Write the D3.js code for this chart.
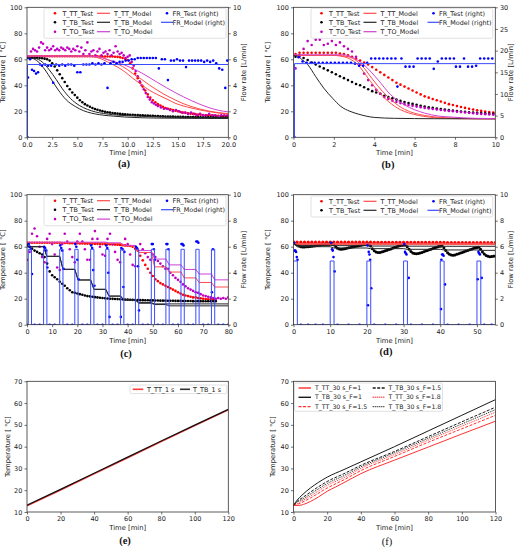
<!DOCTYPE html>
<html>
<head>
<meta charset="utf-8">
<script src="https://cdn.jsdelivr.net/npm/d3@7"></script>
<style>
  body { margin: 0; background: #fff; }
</style>
</head>
<body>
<script>
// ---------- panel (a): 20 min draw-off, sampled every 0.25 min ----------
const aStep = 0.25;
const aTTTest = [61.5,62,62.2,62.3,62.3,62.4,62.4,62.4,62.4,62.4, 62.4,62.4,62.4,62.4,62.4,62.4,62.4,62.4,62.4,62.4,
  62.4,62.4,62.4,62.3,62.3,62.3,62.3,62.3,62.3,62.2, 62.2,62.2,62.2,62.1,62.1,62,61.9,
  61.5,61,60.5,59.5,57,53,49,45.5,42,39, 36,33,30.5,28.5,27,25.5,24.5,23.5,22.5,22,
  21.5,21,20.5,20,19.5,19,18.8,18.5,18.2,18, 17.8,17.5,17.3,17.1,17,16.9,16.8,16.7,16.6,16.5, 16.4,16.3,16.2,16.2];
const aTBTest = [61,61,61.2,61.2,61.2,61,60.8,60.5,60,59, 57,54.5,51.5,48.5,45.5,42.5,39.5,37,34.5,32.5,
  30.5,28.5,27,25.5,24.5,23.5,22.5,21.8,21.2,20.6, 20.1,19.7,19.3,19,18.7,18.4,18.2,18,17.8,17.6,17.5,
  17.4,17.3,17.2,17.1,17,16.9,16.8,16.7,16.6,16.5, 16.4,16.3,16.2,16.1,16,16,15.9,15.9,15.8,15.8,
  15.7,15.7,15.6,15.6,15.6,15.5,15.5,15.5,15.4,15.4, 15.4,15.4,15.3,15.3,15.3,15.3,15.2,15.2,15.2,15.2];
const aTOTest = [[0,46],[0.2,62],[0.4,66],[0.6,68],[0.8,67],[1.0,66],[1.2,69],[1.4,73],[1.6,72],[1.8,67],
  [2.0,69],[2.2,67],[2.4,68],[2.6,70],[2.8,67],[3.0,68],[3.2,67],[3.4,69],[3.6,68],[3.8,67],
  [4.0,69],[4.2,68],[4.4,66],[4.6,68],[4.8,67],[5.0,70],[5.2,66],[5.4,69],[5.6,64],[5.8,67],
  [6.0,73],[6.2,64],[6.4,66],[6.6,67],[6.8,63],[7.0,66],[7.2,68],[7.4,63],[7.6,65],[7.8,66],
  [8.0,64],[8.2,67],[8.4,63],[8.6,65],[8.8,70],[9.0,66],[9.2,64],[9.4,65],[9.6,63],[9.8,61],
  [10.0,62],[10.2,63],[10.4,58],[10.6,55],[10.8,51],[11.0,47],[11.2,43],[11.4,40],[11.6,37],[11.8,34],
  [12.0,31],[12.2,29],[12.4,27],[12.6,26],[12.8,25],[13.0,24],[13.3,23],[13.6,22],[13.9,22],[14.2,21],
  [14.5,20],[14.8,21],[15.1,20],[15.4,19],[15.7,19],[16.0,18],[16.3,19],[16.6,18],[16.9,17],[17.2,18],
  [17.5,17],[17.8,17],[18.1,18],[18.4,17],[18.7,17],[19.0,16],[19.3,17],[19.6,17],[19.9,17]];
const aFRTest = [[0.05,0],[0.1,4.6],[0.3,6.0],[0.5,5.2],[0.7,5.1],[0.9,4.9],[1.1,5.0],[1.3,5.6],[1.5,5.5],[1.8,5.6],
  [2.1,5.5],[2.4,5.5],[2.6,4.2],[2.9,5.6],[3.2,5.5],[3.5,5.6],[3.8,5.5],[4.1,5.6],[4.4,5.6],[4.7,5.5],
  [5.0,5.0],[5.3,5.0],[5.6,5.6],[5.9,5.6],[6.2,5.6],[6.5,5.7],[6.8,5.6],[7.1,5.7],[7.4,5.6],[7.7,5.7],
  [8.0,3.8],[8.3,5.7],[8.6,5.8],[8.9,5.7],[9.2,5.8],[9.5,5.8],[9.8,5.9],[10.1,5.9],[10.4,6.0],[10.7,6.0],
  [11.0,6.1],[11.3,6.1],[11.6,6.1],[11.9,6.1],[12.2,6.1],[12.5,6.1],[12.8,6.1],[13.1,5.3],[13.4,6.0],[13.7,6.0],
  [14.0,4.4],[14.3,5.9],[14.6,5.9],[14.9,6.0],[15.2,5.9],[15.5,5.9],[15.8,5.4],[16.1,5.9],[16.4,5.9],[16.7,5.9],
  [17.0,5.9],[17.3,5.9],[17.6,5.8],[17.9,5.9],[18.2,5.8],[18.5,5.9],[18.8,5.7],[19.1,5.3],[19.4,5.2],[19.7,3.8],[19.9,5.9]];
const aTTModel1 = [[0,62.5],[5.5,62.5],[6.5,62],[7.25,60.7],[8,58],[9,54],[9.7,50.5],[10.5,45.5],[11.4,40.3],[12.2,36],
  [13,32.7],[14,29],[14.7,26.3],[15.5,24.2],[16.4,22.4],[17.2,21],[18,19.9],[19,18.7],[20,17.8]];
const aTTModel2 = [[0,62.5],[6.3,62.5],[7.3,61.8],[8.1,59.5],[9,56.5],[10,52],[10.5,49],[11.4,44.5],[12.2,40],[13,36],
  [14,31.5],[14.7,28.8],[15.5,26],[16.4,23.5],[17.2,21.7],[18,20.3],[19,19],[20,18.2]];
const aTOModel = [[0,62.5],[6,62.5],[7,62],[8.1,59.5],[9.7,55.6],[11.4,49.5],[13,42],[14.7,34.5],[16.4,28],[18,23],[19,20.8],[20,19.5]];
const aTBModel1 = [[0,61],[0.5,60.7],[1.1,58.2],[1.8,51.8],[2.45,44.1],[3.1,36.5],[3.9,28.8],[4.8,23.7],[5.6,20.5],[6.4,18.6],
  [7.2,17.4],[8.1,16.6],[9.7,15.6],[11.5,15],[13,14.8],[16,14.6],[20,14.5]];
const aTBModel2 = [[0,61],[0.8,60.7],[1.5,58],[2.2,52],[2.9,44.5],[3.5,37.5],[4.3,30],[5.2,24.5],[6,21.5],[6.8,19.5],
  [7.6,18.3],[8.5,17.4],[10,16.6],[12,16],[14,15.6],[17,15.3],[20,15.2]];
const aFRModel = [[0.05,0],[0.05,5.6],[20,5.6]];

// ---------- panel (b): 10 min draw-off, sampled every 0.2 min from 0.1 ----------
const bStart = 0.1, bStep = 0.2;
const bTTTest = [64,65,65,65,65,65,65,65,65,65, 65,64.5,64,63,62,60.5,59,57.5,56,54,
  52,50,48,46,44,42,40.5,39,37.5,36, 34.5,33,31.5,30.5,29.5,28.5,27.5,26.5,25.5,24.8,
  24,23.3,22.6,22,21.4,20.8,20.3,19.8,19.4,19];
const bTBTest = [62,63,61,59.5,57.5,56,54.5,53,51.5,50, 48.5,47,45.5,44,42.5,41,40,38.5,37,35.5,
  34.5,33.5,32,31,30,29,28,27.2,26.4,25.7, 25,24.3,23.7,23.1,22.6,22.1,21.7,21.3,20.9,20.5,
  20.2,19.9,19.6,19.3,19,18.8,18.6,18.4,18.2,18];
const bTOTest = [53,62,68,74,71,75,75,71,72,74, 71,73,70,68,66,62,56,49,44,40,
  36.5,33.5,31,29.5,28.2,27.2,26.3,25.5,24.8,24.2, 23.6,23.1,22.6,22.2,21.8,21.4,21,20.6,20.3,20,
  19.7,19.4,19.1,18.8,18.5,18.2,18,17.8,17.6,17.4];
const bFRTest = [[0.05,0],[0.25,18.5],[0.45,17.5],[0.65,17.2],[0.85,17.2],[1.05,17.2],[1.25,17.2],[1.45,17.2],[1.65,17.2],[1.85,17.2],
  [2.05,17.2],[2.25,17.2],[2.45,17.2],[2.65,17.2],[2.85,17.2],[3.05,17],[3.25,16.5],[3.45,16.5],[3.65,17.2],[3.85,18.2],
  [4.05,18.2],[4.25,18.2],[4.45,18.2],[4.65,18.2],[4.85,18.2],[5.05,18.2],[5.15,11.7],[5.35,18.2],[5.55,16.3],[5.75,16.3],
  [5.95,16.3],[6.15,18.2],[6.35,18.2],[6.55,18.2],[6.75,18.2],[6.95,15.8],[7.15,17.5],[7.35,18.2],[7.55,18.2],[7.75,18.2],
  [7.95,18.2],[8.05,16.3],[8.25,16.3],[8.45,18.2],[8.65,16.3],[8.85,16.3],[9.05,16.5],[9.25,18.2],[9.45,18.2],[9.65,18.2],[9.85,18.2]];
const bTTModel1 = [[0,63],[2,63],[2.3,62.5],[2.7,61],[3.2,55.6],[3.7,45.4],[4.2,35.2],[4.7,27.6],[5.3,21.2],[5.7,18.8],
  [6.2,16.8],[6.7,15.6],[7.3,14.8],[8,14.4],[9,14.2],[10,14.2]];
const bTTModel2 = [[0,63],[2.2,63],[2.5,62.5],[2.9,61],[3.4,55],[3.9,45],[4.4,35.5],[4.9,28],[5.5,21.5],[6,18.5],
  [6.5,16.8],[7,15.7],[7.6,15],[8.5,14.5],[10,14.2]];
const bTOModel = [[0,63.5],[2.4,63.5],[2.85,62],[3.5,55.6],[4.2,44],[4.8,33],[5.5,25],[6.5,18.6],[7.2,16.3],[7.8,15.6],[9,14.6],[10,14.4]];
const bTBModel = [[0,63],[0.2,62.5],[0.4,60],[0.7,56],[1.1,46.7],[1.5,37.8],[1.94,30],[2.35,23.7],[2.8,20],[3.2,17.9],
  [3.6,16.3],[4,15.3],[5,14.6],[7,14.3],[10,14.2]];
const bFRModel = [[0.05,0],[0.05,17],[10,17]];

// ---------- panel (c): intermittent draw-offs, sampled every 1 min ----------
const cStep = 1;
const cTTTest = [63,63,63,63,63,63,63,63,63,63, 63,63,63,63,62.8,62.8,62.8,62.7,62.7,62.6,
  62.6,62.5,62.5,62.4,62.4,62.3,62.3,62.2,62.2,62.1, 62,62,61.9,61.8,61.7,61.6,61.5,61.4,61.2,61,
  60.8,60.5,60,58.5,57,53,49.5,46,43,40, 37.5,35,33.5,32,31,30,29,28,27,26,
  25,24,23,22.5,22,21.5,21,21,20.5,20.3, 20,19.8,19.6,19.5,19.3,19];
const cTBTest = [61,60,58.5,57,56,55,54,52,47,41, 38,36.5,35,33,31.5,30,28,26.5,25,24.5,
  24,23.5,23,22.5,22,21.8,21.5,21.2,21,20.7, 20.5,20.3,20.1,20,19.9,19.8,19.7,19.6,19.5,19.4,
  19.3,19.2,19.1,19,19,18.9,18.9,18.8,18.8,18.7, 18.7,18.6,18.6,18.5,18.5,18.5,18.4,18.4,18.4,18.3,
  18.3,18.3,18.2,18.2,18.2,18.2,18.1,18.1,18.1,18.1, 18,18,18,18,18,18];
const cTOTest = [50,56,70,74,68,60,52,48,66,70, 62,54,44,42,62,70,64,58,52,48,
  64,70,64,58,50,50,66,72,66,60, 54,53,66,70,62,56,50,48,58,66,
  62,54,46,45,58,62,58,55,52,50, 54,52,49,47,45,43,43,40,38,36,
  34.5,33,31,29.5,28,27,26,25,24.5,23.5, 22.5,22,21.5,21,20.5,20,20.5,20,20.5,20, 21];
const cFRTest = [[0,0],[0.7,6.2],[1.1,6.0],[1.5,5.8],[2.0,3.9],[3,0],[5,0],
  [6.8,6.0],[7.2,5.9],[7.6,5.7],[8.1,4.4],[9,0],[11,0],
  [13.2,6.1],[13.6,5.9],[14.0,5.7],[14.5,4.3],[16,0],[18,0],
  [19.2,6.2],[19.6,6.0],[20.0,5.0],[20.5,3.5],[22,0],[24,0],
  [25.5,6.1],[25.9,5.9],[26.3,4.2],[26.8,3.0],[28,0],[30,0],
  [31.5,6.1],[31.9,5.9],[32.3,4.0],[32.8,0.6],[34,0],[36,0],
  [37.3,0.6],[37.5,5.9],[37.9,5.8],[38.3,2.9],[38.7,5.6],[40,0],[42,0],
  [43.3,6.0],[43.7,5.9],[44.1,4.5],[44.5,1.1],[46,0],[48,0],
  [49.6,6.2],[50.0,6.2],[50.4,5.8],[50.8,5.0],[52,0],[54,0],
  [55.4,6.2],[55.8,6.2],[56.2,5.8],[58,0],[60,0],
  [61.4,6.2],[61.8,6.2],[62.2,6.1],[64,0],[66,0],
  [67.3,6.4],[67.7,6.4],[68.1,6.3],[70,0],[72,0],
  [73.5,2.5],[73.9,5.8],[76,0],[78,0],[80,0]];
const cTTModel = [[0,63],[31.3,63],[32.6,62.5],[37.2,62.5],[38.5,60.5],[43.1,60.5],[44.4,55.5],[49.4,55.5],[50.7,44.5],
  [55.2,44.5],[56.5,40.5],[61.2,40.5],[62.5,36],[67.1,36],[68.4,32.5],[73.3,32.5],[74.6,29],[80,29]];
const cTOModel = [[0,63.5],[31.3,63.5],[32.6,63],[37.2,63],[38.5,61],[43.1,61],[44.4,57],[49.4,57],[50.7,50.5],
  [55.2,50.5],[56.5,46],[61.2,46],[62.5,42.5],[67.1,42.5],[68.4,39],[73.3,39],[74.6,34.5],[80,34.5]];
const cTBModel1 = [[0,60],[6.6,60],[7.9,52.6],[13,52.6],[14.3,42.6],[19,42.6],[20.3,34.4],[25.3,34.4],[26.6,27.2],
  [31.3,27.2],[32.6,22],[37.2,22],[38.5,19],[43.1,19],[44.4,17],[49.4,17],[50.7,16],[80,16]];
const cTBModel2 = [[0,60],[6.6,60],[7.9,52.6],[13,52.6],[14.3,42.6],[19,42.6],[20.3,34.4],[25.3,34.4],[26.6,27.2],
  [31.3,27.2],[32.6,22],[37.2,22],[38.5,19],[43.1,19],[44.4,16.5],[49.4,16.5],[50.7,15.5],[55.2,15.5],[56.5,14.5],[80,14.5]];
const cPulseStarts = [0.5,6.6,13,19,25.3,31.3,37.2,43.1,49.4,55.2,61.2,67.1,73.3];
const cPulseWidth = 1.3, cPulseFlow = 5.8, cEnd = 80;

// ---------- panel (d): periodic draw-offs ----------
const dTTStep = 1, dTBStep = 0.5;
const dTTTest = [63.8,63.6,63.5,63.5,63.5,63.5,63.5,63.5,63.5,63.5, 63.6,63.6,63.5,63.5,63.5,63.5,63.5,63.5,63.5,63.5,
  63.5,63.5,63.4,63.4,63.4,63.4,63.4,63.4,63.4,63.4, 63.4,63.4,63.3,63.3,63.3,63.3,63.3,63.3,63.3,63.3,
  63.3,63.3,63.2,63.2,63.2,63.2,63.2,63.2,63.2,63.2, 63.2,63.2,63.1,63.1,63.1,63.1];
const dTBTest = [62.5,62.3,61.5,60.5,60,59.8,59.8,59.9,60,60.2, 60.4,60.6,60.8,61,61.2,61.4,61.6,61.8,61.9,62,
  62.2,62.5,61.5,60,58.8,58.2,58,58.2,58.5,58.8, 59.1,59.4,59.7,60,60.3,60.6,60.9,61.2,61.5,61.7,
  61.9,62,60.5,58.5,56.8,56,55.6,55.6,55.9,56.3, 56.8,57.3,57.8,58.3,58.8,59.3,59.8,60.3,60.8,61.2,
  61.4,61.5,60,58,56.3,55.2,54.7,54.5,54.7,55.1, 55.6,56.1,56.6,57.1,57.6,58.1,58.6,59.1,59.6,60.1,
  60.4,60.5,59,57,55.3,54.2,53.7,53.5,53.7,54.1, 54.6,55.1,55.6,56.1,56.6,57.1,57.6,58.1,58.6,59.1,
  59.4,59.5,58,56,54.3,53.2,52.6,52.3,52.4,52.6,52.9];
const dFRTest = [[0.1,6.3],[0.3,5.7],[0.5,5.7],[0.7,5.6],[0.9,5.2],[1.1,5.0],
  [10.3,6.3],[10.5,5.8],[10.7,5.7],[10.9,5.2],[11.2,4.1],
  [20.2,6.1],[20.3,1.5],[20.5,5.6],[20.7,5.4],[20.9,5.0],[21.2,2.8],
  [30.2,6.2],[30.4,5.6],[30.6,5.5],[30.8,5.4],[31.4,3.6],
  [40.2,1.2],[40.3,5.0],[40.5,5.4],[40.7,5.4],[40.9,5.3],[41.3,3.1],
  [50.2,3.5],[50.4,5.6],[50.6,5.5],[50.8,5.4],[51.3,3.6],
  [2,0],[4,0],[6,0],[8,0],[12,0],[15,0],[18,0],[22,0],[25,0],[28,0],[32,0],[35,0],[38,0],[42,0],[45,0],[48,0],[52,0],[54,0]];
const dTTModel1 = [[0,62.4],[55,62.4]];
const dTTModel2 = [[0,61.6],[55,61.6]];
const dTBModel1 = [[0,62.5],[1,61],[10,61],[11,60.8],[20,60.8],[21,60.5],[30,60.5],[31,60.4],[40,60.4],[41,60.3],[55,60.3]];
const dTBModel2 = [[0,62.5],[1,60],[10,60],[11,59],[20,59],[21,58.5],[30,58.5],[31,58],[40,58],[41,57.5],[50,57.5],[51,57.2],[55,57.2]];
const dPulseStarts = [0,10,20,30,40,50];
const dPulseWidth = 1.05, dPulseFlow = 4.9, dEnd = 55;

// ---------- panel (e): 1 s heating ----------
const eTT = [[0,12.8],[20,20.1],[40,27.5],[60,34.9],[80,42.3],[100,49.6],[120,56.9]];
const eTB = [[0,13.1],[20,20.4],[40,27.8],[60,35.2],[80,42.6],[100,49.9],[120,57.1]];

// ---------- panel (f): 30 s heating, F factors ----------
const fTT1  = [[0,13],[3,13],[6,13.5],[10,14.8],[15,17],[20,19.5],[25,21.5],[30,23.5],[40,27.6],[60,33.8],[80,39.8],[100,45.8],[120,51.7]];
const fTB1  = [[0,13],[2,15.3],[5,17.7],[10,21],[15,23.7],[20,26],[30,29.5],[40,33],[60,40],[80,47.2],[100,54.4],[120,61.6]];
const fTT15 = [[0,13],[2,13.4],[5,14.4],[10,16.4],[20,21],[30,24.8],[40,29],[60,35.5],[80,42],[100,48.2],[120,54.4]];
const fTB15 = [[0,13],[2,14.8],[5,16.4],[10,19.1],[20,24],[30,27.6],[40,31.4],[60,37.8],[80,44.6],[100,51.4],[120,58.1]];
const fTT18 = [[0,13],[2,13.8],[5,15.1],[10,17.3],[20,22.2],[30,25.8],[40,30],[60,36.4],[80,43],[100,49.4],[120,55.8]];
const fTB18 = [[0,13],[2,14.5],[5,15.7],[10,18.2],[20,23.1],[30,26.7],[40,30.7],[60,37.2],[80,43.8],[100,50.4],[120,57]];

// ---------- ticks ----------
const ticksTemp = [0,20,40,60,80,100];
const ticksFlow10 = [0,2,4,6,8,10];
const ticksFlow30 = [0,5,10,15,20,25,30];
const ticksA = [0,2.5,5,7.5,10,12.5,15,17.5,20];
const ticksB = [0,2,4,6,8,10];
const ticksC = [0,10,20,30,40,50,60,70,80];
const ticksD = [0,10,20,30,40,50];
const ticksEF = [0,20,40,60,80,100,120];
const ticksTempEF = [10,20,30,40,50,60,70];

const FONT = '"DejaVu Sans", sans-serif';
const RED = '#ff0000', RED_M = '#ff4a4a', BLK = '#000', BLK_M = '#262626';
const MAG = '#c000c0', MAG_M = '#d040d0', BLU = '#0000ff', BLU_M = '#3a4cff';

const svg = d3.select('body').append('svg').attr('width', 519).attr('height', 550);
let clipN = 0;

function styleAxis(s) {
  s.attr('font-size', 6.5).attr('font-family', FONT);
  s.select('.domain').remove();
  s.selectAll('.tick line').attr('stroke', '#333').attr('stroke-width', 0.7);
  s.selectAll('.tick text').attr('fill', '#222');
}

function panel(box, o) {
  const x = d3.scaleLinear().domain(o.xd).range([box.L, box.R]);
  const y = d3.scaleLinear().domain(o.yd).range([box.B, box.T]);
  const y2 = o.y2d ? d3.scaleLinear().domain(o.y2d).range([box.B, box.T]) : null;
  const id = 'clip' + (clipN++);
  svg.append('clipPath').attr('id', id).append('rect')
    .attr('x', box.L).attr('y', box.T).attr('width', box.R - box.L).attr('height', box.B - box.T);
  const plot = svg.append('g').attr('clip-path', `url(#${id})`);
  const ax = svg.append('g');
  ax.append('g').attr('transform', `translate(0,${box.B})`)
    .call(d3.axisBottom(x).tickValues(o.xt).tickFormat(o.xf || d3.format('d')).tickSize(2.5).tickPadding(2.2))
    .call(styleAxis);
  ax.append('g').attr('transform', `translate(${box.L},0)`)
    .call(d3.axisLeft(y).tickValues(o.yt).tickFormat(d3.format('d')).tickSize(2.5).tickPadding(2.2))
    .call(styleAxis);
  if (y2) {
    ax.append('g').attr('transform', `translate(${box.R},0)`)
      .call(d3.axisRight(y2).tickValues(o.y2t).tickFormat(d3.format('d')).tickSize(2.5).tickPadding(2.2))
      .call(styleAxis);
    ax.append('text').attr('transform', `translate(${box.R + o.y2Off},${(box.T + box.B) / 2}) rotate(-90)`)
      .attr('text-anchor', 'middle').attr('font-size', 6.8).attr('font-family', FONT).attr('fill', '#222')
      .text('Flow rate [L/min]');
  }
  ax.append('rect').attr('x', box.L).attr('y', box.T).attr('width', box.R - box.L).attr('height', box.B - box.T)
    .attr('fill', 'none').attr('stroke', '#333').attr('stroke-width', 0.8);
  ax.append('text').attr('x', (box.L + box.R) / 2).attr('y', box.B + 17.8)
    .attr('text-anchor', 'middle').attr('font-size', 6.8).attr('font-family', FONT).attr('fill', '#222')
    .text('Time [min]');
  ax.append('text').attr('transform', `translate(${box.L - o.yOff},${(box.T + box.B) / 2}) rotate(-90)`)
    .attr('text-anchor', 'middle').attr('font-size', 6.8).attr('font-family', FONT).attr('fill', '#222')
    .text('Temperature [ °C]');
  ax.append('text').attr('x', o.lab[0]).attr('y', o.lab[1]).attr('text-anchor', 'middle')
    .attr('font-size', 10.5).attr('font-weight', o.labBold === false ? 'normal' : 'bold')
    .attr('font-family', '"Liberation Serif", serif').attr('fill', '#111').text(o.label);
  return { box, x, y, y2, plot };
}

function sampled(values, step, start = 0) { return values.map((v, i) => [start + i * step, v]); }
function pulses(starts, width, flow, end) {
  const pts = [[0, 0]];
  starts.forEach(s => pts.push([s, 0], [s, flow], [s + width, flow], [s + width, 0]));
  pts.push([end, 0]);
  return pts;
}
function dots(p, data, color, r = 1.3, ys) {
  const yy = ys || p.y;
  p.plot.append('g').selectAll('circle').data(data).join('circle')
    .attr('cx', d => p.x(d[0])).attr('cy', d => yy(d[1])).attr('r', r).attr('fill', color);
}
function line(p, data, color, w = 1, dash = null, ys, curve = d3.curveLinear) {
  const yy = ys || p.y;
  p.plot.append('path').datum(data)
    .attr('d', d3.line().x(d => p.x(d[0])).y(d => yy(d[1])).curve(curve))
    .attr('fill', 'none').attr('stroke', color).attr('stroke-width', w)
    .attr('stroke-dasharray', dash).attr('stroke-linejoin', 'round');
}
function legend(p, L) {
  const b = p.box;
  const g = svg.append('g');
  g.append('rect').attr('x', b.L + L.x).attr('y', b.T + L.y).attr('width', L.w).attr('height', L.h)
    .attr('rx', 1.5).attr('fill', '#fff').attr('fill-opacity', 0.8).attr('stroke', '#ccc').attr('stroke-width', 0.6);
  L.items.forEach(it => {
    const c = L.cols[it.col];
    const yy = b.T + L.rows[it.row];
    if (it.kind === 'dot') {
      g.append('circle').attr('cx', b.L + (c.m0 + c.m1) / 2).attr('cy', yy).attr('r', 1.3).attr('fill', it.color);
    } else {
      g.append('line').attr('x1', b.L + c.m0).attr('x2', b.L + c.m1).attr('y1', yy).attr('y2', yy)
        .attr('stroke', it.color).attr('stroke-width', it.w || 1.2).attr('stroke-dasharray', it.dash || null);
    }
    g.append('text').attr('x', b.L + c.t).attr('y', yy).attr('dy', '0.35em')
      .attr('font-size', L.fs || 6.4).attr('font-family', FONT).attr('fill', '#222').text(it.label);
  });
}

const cols3 = [{m0: 22, m1: 34, t: 35.5}, {m0: 70, m1: 83, t: 87}, {m0: 134, m1: 146, t: 145.5}];
const smooth = d3.curveMonotoneX;

// ---------- (a) ----------
const pa = panel({L: 27, R: 228.3, T: 7.3, B: 137.3}, {
  xd: [0, 20], xt: ticksA, xf: d3.format('.1f'), yd: [0, 100], yt: ticksTemp,
  y2d: [0, 10], y2t: ticksFlow10, yOff: 22, y2Off: 18, lab: [124, 167], label: '(a)'
});
dots(pa, sampled(aTTTest, aStep), RED);
dots(pa, sampled(aTBTest, aStep), BLK);
dots(pa, aTOTest, MAG);
line(pa, aTTModel1, RED_M, 1, null, null, smooth);
line(pa, aTTModel2, RED_M, 1, null, null, smooth);
line(pa, aTBModel1, BLK_M, 1, null, null, smooth);
line(pa, aTBModel2, BLK_M, 1, null, null, smooth);
line(pa, aTOModel, MAG_M, 1, null, null, smooth);
dots(pa, aFRTest, BLU, 1.3, pa.y2);
line(pa, aFRModel, BLU_M, 1, null, pa.y2);
const legItems3 = [
  {col: 0, row: 0, kind: 'dot', color: RED, label: 'T_TT_Test'},
  {col: 0, row: 1, kind: 'dot', color: BLK, label: 'T_TB_Test'},
  {col: 0, row: 2, kind: 'dot', color: MAG, label: 'T_TO_Test'},
  {col: 1, row: 0, kind: 'line', color: RED_M, label: 'T_TT_Model'},
  {col: 1, row: 1, kind: 'line', color: BLK_M, label: 'T_TB_Model'},
  {col: 1, row: 2, kind: 'line', color: MAG_M, label: 'T_TO_Model'},
  {col: 2, row: 0, kind: 'dot', color: BLU, label: 'FR_Test (right)'},
  {col: 2, row: 1, kind: 'line', color: BLU_M, label: 'FR_Model (right)'}
];
legend(pa, {x: 17, y: 1, w: 182, h: 30, rows: [6, 15, 24.4], cols: cols3, items: legItems3});

// ---------- (b) ----------
const pb = panel({L: 293.5, R: 495.3, T: 7.3, B: 137.3}, {
  xd: [0, 10], xt: ticksB, yd: [0, 100], yt: ticksTemp,
  y2d: [0, 30], y2t: ticksFlow30, yOff: 23.5, y2Off: 17.4, lab: [388, 168], label: '(b)'
});
dots(pb, sampled(bTTTest, bStep, bStart), RED);
dots(pb, sampled(bTBTest, bStep, bStart), BLK);
dots(pb, sampled(bTOTest, bStep, bStart), MAG);
line(pb, bTTModel1, RED_M, 1, null, null, smooth);
line(pb, bTTModel2, RED_M, 1, null, null, smooth);
line(pb, bTBModel, BLK_M, 1, null, null, smooth);
line(pb, bTOModel, MAG_M, 1, null, null, smooth);
dots(pb, bFRTest, BLU, 1.3, pb.y2);
line(pb, bFRModel, BLU_M, 1, null, pb.y2);
legend(pb, {x: 17.5, y: 1, w: 181.7, h: 30, rows: [6, 15, 24.4], cols: cols3, items: legItems3});

// ---------- (c) ----------
const pc = panel({L: 27, R: 228.3, T: 194.7, B: 324.7}, {
  xd: [0, 80], xt: ticksC, yd: [0, 100], yt: ticksTemp,
  y2d: [0, 10], y2t: ticksFlow10, yOff: 22, y2Off: 18, lab: [126, 357], label: '(c)'
});
dots(pc, sampled(cTTTest, cStep), RED);
dots(pc, sampled(cTBTest, cStep), BLK);
dots(pc, sampled(cTOTest, cStep), MAG);
line(pc, cTTModel, RED_M, 1);
line(pc, cTBModel1, BLK_M, 1);
line(pc, cTBModel2, BLK_M, 1);
line(pc, cTOModel, MAG_M, 1);
dots(pc, cFRTest, BLU, 1.3, pc.y2);
line(pc, pulses(cPulseStarts, cPulseWidth, cPulseFlow, cEnd), BLU_M, 1, null, pc.y2);
legend(pc, {x: 17, y: 1, w: 182, h: 30, rows: [6, 15, 24.4], cols: cols3, items: legItems3});

// ---------- (d) ----------
const pd = panel({L: 293.5, R: 495.3, T: 194.7, B: 324.7}, {
  xd: [0, 55], xt: ticksD, yd: [0, 100], yt: ticksTemp,
  y2d: [0, 10], y2t: ticksFlow10, yOff: 23.5, y2Off: 17.4, lab: [386, 355], label: '(d)'
});
dots(pd, sampled(dTTTest, dTTStep), RED, 1.6);
dots(pd, sampled(dTBTest, dTBStep), BLK, 1.5);
line(pd, dTTModel1, RED_M, 1);
line(pd, dTTModel2, RED_M, 1);
line(pd, dTBModel1, BLK_M, 1);
line(pd, dTBModel2, BLK_M, 1);
dots(pd, dFRTest, BLU, 1.3, pd.y2);
line(pd, pulses(dPulseStarts, dPulseWidth, dPulseFlow, dEnd), BLU_M, 1, null, pd.y2);
legend(pd, {x: 17.5, y: 1.3, w: 181.7, h: 21, rows: [6.6, 15.6], cols: cols3, items: [
  {col: 0, row: 0, kind: 'dot', color: RED, label: 'T_TT_Test'},
  {col: 0, row: 1, kind: 'dot', color: BLK, label: 'T_TB_Test'},
  {col: 1, row: 0, kind: 'line', color: RED_M, label: 'T_TT_Model'},
  {col: 1, row: 1, kind: 'line', color: BLK_M, label: 'T_TB_Model'},
  {col: 2, row: 0, kind: 'dot', color: BLU, label: 'FR_Test (right)'},
  {col: 2, row: 1, kind: 'line', color: BLU_M, label: 'FR_Model (right)'}
]});

// ---------- (e) ----------
const pe = panel({L: 27, R: 228.3, T: 381.3, B: 512}, {
  xd: [0, 120], xt: ticksEF, yd: [10, 70], yt: ticksTempEF, yOff: 17, lab: [125, 544], label: '(e)'
});
line(pe, eTT, '#ff3a3a', 1.4);
line(pe, eTB, '#111', 1.2);
legend(pe, {x: 103, y: 3.7, w: 96.7, h: 8.6, rows: [8], cols: [{m0: 105.7, m1: 116.3, t: 120}, {m0: 153, m1: 163, t: 166}], items: [
  {col: 0, row: 0, kind: 'line', color: '#ff3a3a', w: 1.6, label: 'T_TT_1 s'},
  {col: 1, row: 0, kind: 'line', color: '#333', w: 1.6, label: 'T_TB_1 s'}
]});

// ---------- (f) ----------
const pf = panel({L: 293.5, R: 495.5, T: 381.3, B: 512}, {
  xd: [0, 120], xt: ticksEF, yd: [10, 70], yt: ticksTempEF, yOff: 18.5, lab: [387, 545], label: '(f)', labBold: false
});
const RF = '#ff3030', BF = '#1a1a1a';
line(pf, fTT1, RF, 1, null, null, smooth);
line(pf, fTB1, BF, 1, null, null, smooth);
line(pf, fTT15, RF, 1, '3,1.5', null, smooth);
line(pf, fTB15, BF, 1, '3,1.5', null, smooth);
line(pf, fTT18, RF, 1, '1,1', null, smooth);
line(pf, fTB18, BF, 1, '1,1', null, smooth);
legend(pf, {x: 1, y: 1.7, w: 148, h: 28.3, rows: [6.7, 16, 25.3], fs: 6.2, cols: [{m0: 5, m1: 17.5, t: 21.5}, {m0: 79.2, m1: 91.5, t: 95}], items: [
  {col: 0, row: 0, kind: 'line', color: RF, w: 1.4, label: 'T_TT_30 s_F=1'},
  {col: 0, row: 1, kind: 'line', color: BF, w: 1.4, label: 'T_TB_30 s_F=1'},
  {col: 0, row: 2, kind: 'line', color: RF, w: 1.4, dash: '3,1.5', label: 'T_TT_30 s_F=1.5'},
  {col: 1, row: 0, kind: 'line', color: BF, w: 1.4, dash: '3,1.5', label: 'T_TB_30 s_F=1.5'},
  {col: 1, row: 1, kind: 'line', color: RF, w: 1.4, dash: '1,1', label: 'T_TT_30 s_F=1.8'},
  {col: 1, row: 2, kind: 'line', color: BF, w: 1.4, dash: '1,1', label: 'T_TB_30 s_F=1.8'}
]});
</script>
</body>
</html>
